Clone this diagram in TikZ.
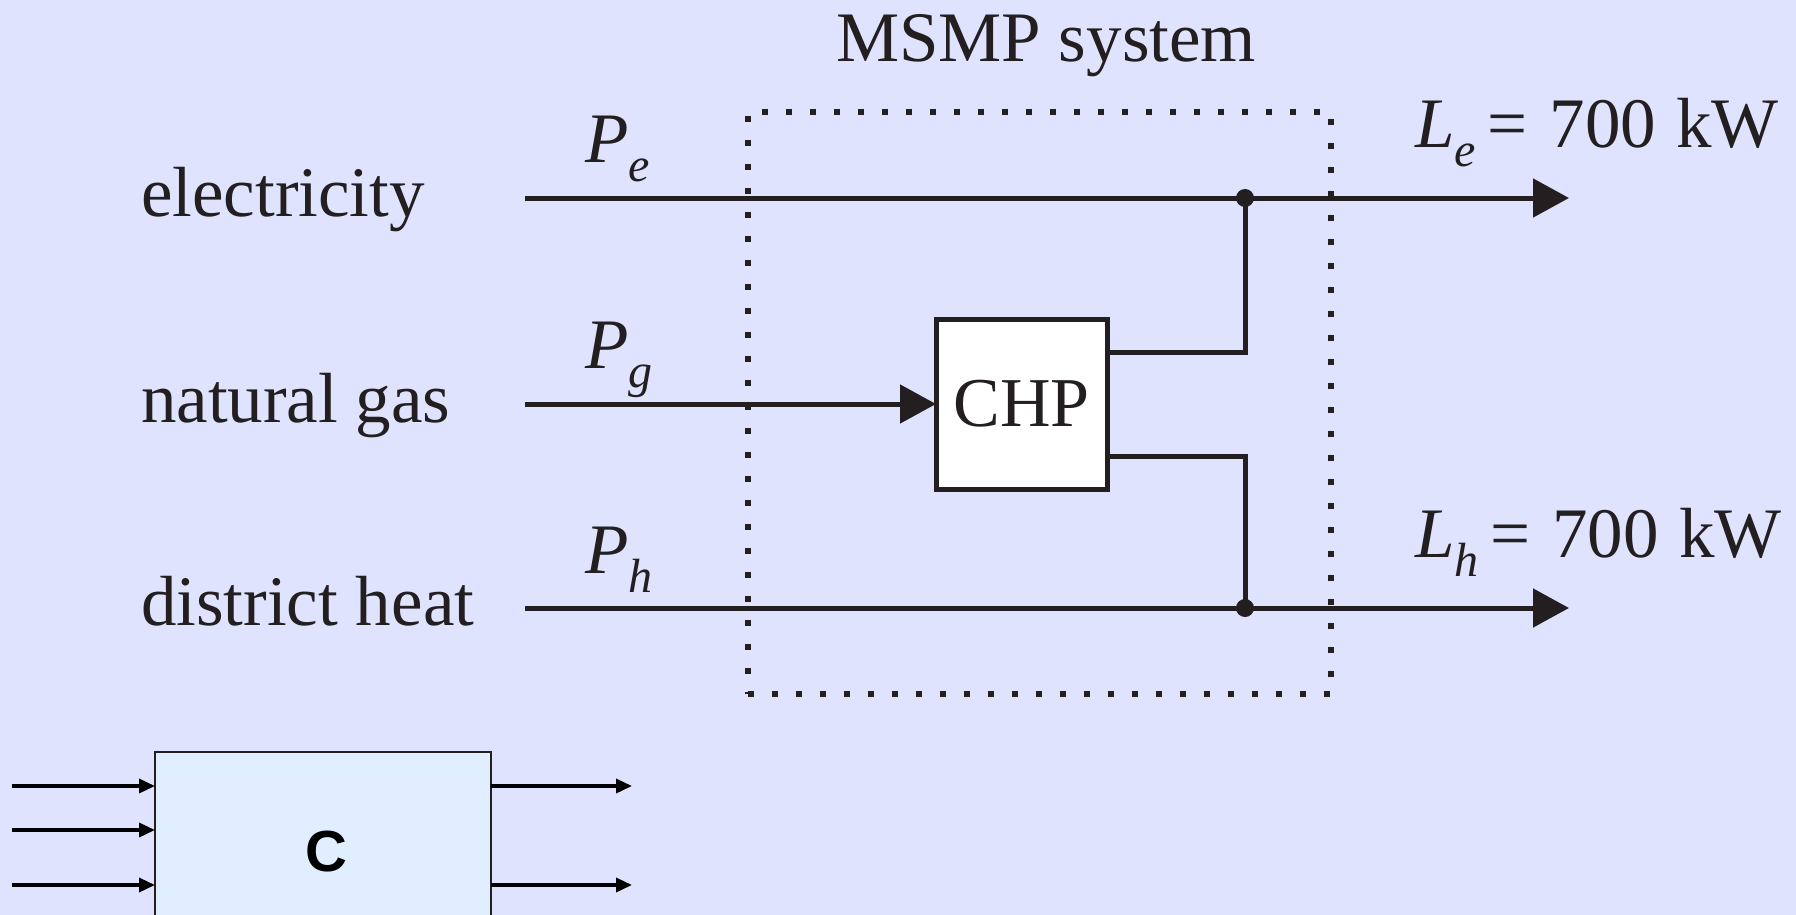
\documentclass[tikz,border=0pt]{standalone}
\usepackage{fontspec}
\setmainfont{Liberation Serif}
\newfontfamily\sansfam{Liberation Sans}
\usetikzlibrary{arrows.meta}
\definecolor{bgc}{RGB}{223,227,253}
\definecolor{ink}{RGB}{35,31,32}
\definecolor{cfill}{RGB}{225,238,255}
\newcommand{\subidx}[1]{\raisebox{-19pt}{\fontsize{48}{48}\selectfont\itshape #1}}
\begin{document}
\begin{tikzpicture}[x=1pt,y=-1pt,
  lbl/.style={anchor=base west, inner sep=0pt, outer sep=0pt, text=ink, font=\fontsize{71}{71}\selectfont},
  flow/.style={line width=5pt, draw=ink},
  bigarrow/.style={flow, -{Triangle[length=36pt,width=38pt]}},
  smallarrow/.style={line width=3.5pt, draw=black, -{Triangle[length=16pt,width=14pt]}},
  dotbox/.style={draw=ink, line width=6pt, dash pattern=on 6pt off 18pt, inner sep=0pt, outer sep=0pt},
  chpbox/.style={draw=ink, line width=5pt, fill=white, inner sep=0pt, outer sep=0pt, text=ink, font=\fontsize{70}{70}\selectfont},
  cboxst/.style={draw=ink, line width=2pt, fill=cfill, inner sep=0pt, outer sep=0pt}
]
\useasboundingbox[fill=bgc] (0,0) rectangle (1796,915);

% system boundary
\node[dotbox, minimum width=583pt, minimum height=582pt] (sys) at (1039.5,403) {};
\node[lbl] (title) at (836,62) {MSMP system};

% left labels
\node[lbl] (elec) at (141,216) {electricity};
\node[lbl] (gas) at (141,422) {natural gas};
\node[lbl] (heat) at (141,625) {district heat};

\node[lbl] (pe) at (585,163) {\itshape P\subidx{e}};
\node[lbl] (pg) at (585,368) {\itshape P\subidx{g}};
\node[lbl] (ph) at (585,573) {\itshape P\subidx{h}};

\node[lbl] (le) at (1415,147) {{\itshape L\subidx{e}}\hspace{12pt}=\hspace{22pt}700\hspace{20pt}kW};
\node[lbl] (lh) at (1415,557) {{\itshape L\subidx{h}}\hspace{12pt}=\hspace{22pt}700\hspace{20pt}kW};

% CHP
\node[chpbox, minimum width=171pt, minimum height=170pt] (chp) at (1021.5,404) {CHP};

% coordinates
\coordinate (es) at (525,198);
\coordinate (ee) at (1569,198);
\coordinate (je) at (1245,198);
\coordinate (gs) at (525,404);
\coordinate (hs) at (525,608);
\coordinate (he) at (1569,608);
\coordinate (jh) at (1245,608);
\coordinate (u1) at (1245,352);
\coordinate (u2) at (1245,456);

\draw[bigarrow] (es) -- (ee);
\draw[bigarrow] (hs) -- (he);
\draw[bigarrow] (gs) -- (chp.west);
\draw[flow] (chp.east |- u1) -- (u1) -- (je);
\draw[flow] (chp.east |- u2) -- (u2) -- (jh);
\fill[ink] (je) circle (9pt);
\fill[ink] (jh) circle (9pt);

% bottom block
\node[cboxst, anchor=north west, minimum width=336pt, minimum height=180pt] (cbox) at (155,752) {};
\node[inner sep=0pt, font=\sansfam\bfseries\fontsize{58}{58}\selectfont] (clbl) at (326,852) {C};
\coordinate (i1) at (12,786);
\coordinate (i2) at (12,830);
\coordinate (i3) at (12,885);
\coordinate (o1) at (632,786);
\coordinate (o2) at (632,885);
\draw[smallarrow] (i1) -- (cbox.west |- i1);
\draw[smallarrow] (i2) -- (cbox.west |- i2);
\draw[smallarrow] (i3) -- (cbox.west |- i3);
\draw[smallarrow] (cbox.east |- o1) -- (o1);
\draw[smallarrow] (cbox.east |- o2) -- (o2);
\end{tikzpicture}
\end{document}
